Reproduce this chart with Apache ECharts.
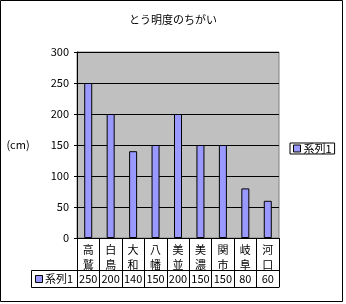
<!DOCTYPE html>
<html><head><meta charset="utf-8">
<script src="https://cdn.jsdelivr.net/npm/echarts@6/dist/echarts.min.js"></script>
<style>html,body{margin:0;padding:0;background:#fff}#c{width:346px;height:304px}</style>
</head><body><div id="c"></div>
<script>
var title = 'とう明度のちがい';
var categories = ['高鷲','白鳥','大和','八幡','美並','美濃','関市','岐阜','河口'];
var seriesName = '系列1';
var values = [250,200,140,150,200,150,150,80,60];
var yTicks = [0,50,100,150,200,250,300];
var yUnit = '(cm)';

var FONT = '"Noto Sans CJK JP", sans-serif';
var chart = echarts.init(document.getElementById('c'), null, {renderer:'canvas'});
var option = {
  animation:false,
  backgroundColor:'#fff',
  textStyle:{fontFamily:FONT},
  title:{text:title,left:'center',top:9,textStyle:{fontSize:11,fontWeight:'normal',color:'#000',fontFamily:FONT}},
  legend:{data:[{name:seriesName,icon:'rect'}],left:290,top:143,orient:'vertical',itemWidth:7,itemHeight:7,itemGap:2,
    padding:[0,3,0,3],borderColor:'#000',borderWidth:1,
    textStyle:{fontSize:11,color:'#000',fontFamily:FONT,padding:[0,0,0,-2]},
    itemStyle:{borderColor:'#000',borderWidth:1}},
  grid:{left:77,right:67,top:52,bottom:66,show:true,backgroundColor:'#C0C0C0',borderColor:'#808080',borderWidth:1},
  xAxis:[
    {type:'category',data:categories,position:'bottom',
     axisLine:{show:true,lineStyle:{color:'#000',width:1}},
     axisTick:{show:true,length:49,alignWithLabel:false,lineStyle:{color:'#000'}},
     axisLabel:{interval:0,margin:4,fontSize:11,color:'#000',lineHeight:15,fontFamily:FONT,
       formatter:function(v){return v.split('').join('\n');}}},
    {type:'category',data:values.map(String),position:'bottom',offset:32,
     axisLine:{show:true,lineStyle:{color:'#000',width:1}},
     axisTick:{show:false},
     axisLabel:{interval:0,margin:3,fontSize:11,color:'#000',fontFamily:FONT}},
    {type:'category',data:categories,position:'bottom',offset:49,
     axisLine:{show:true,lineStyle:{color:'#000',width:1}},
     axisTick:{show:false},axisLabel:{show:false}}
  ],
  yAxis:{type:'value',min:yTicks[0],max:yTicks[yTicks.length-1],interval:50,
    axisLine:{show:true,lineStyle:{color:'#000'}},
    axisTick:{show:true,length:3,lineStyle:{color:'#000'}},
    axisLabel:{margin:8,fontSize:11,color:'#000',fontFamily:FONT},
    splitLine:{show:true,lineStyle:{color:'#000',width:1}}},
  series:[{type:'bar',name:seriesName,data:values,xAxisIndex:0,barWidth:8,
    itemStyle:{color:'#9999FF',borderColor:'#000',borderWidth:1}}],
  graphic:[]
};
chart.setOption(option);

var y0 = chart.convertToPixel({yAxisIndex:0}, 0);
var catW = chart.convertToPixel({xAxisIndex:0}, categories[1]) - chart.convertToPixel({xAxisIndex:0}, categories[0]);
var left = chart.convertToPixel({xAxisIndex:0}, categories[0]) - catW/2;
var r1 = y0 + 32;
chart.setOption({graphic:[
  {type:'rect',shape:{x:0.5,y:0.5,width:342,height:301},style:{fill:'none',stroke:'#000',lineWidth:1},silent:true},
  {type:'rect',shape:{x:31.5,y:Math.round(r1)+0.5,width:Math.round(left)-31,height:17},style:{fill:'#fff',stroke:'#000',lineWidth:1},silent:true},
  {type:'rect',shape:{x:35.5,y:Math.round(r1)+5.5,width:7,height:7},style:{fill:'#9999FF',stroke:'#000',lineWidth:1},silent:true},
  {type:'text',x:45,y:Math.round(r1)+9,style:{text:seriesName,fontSize:11,fill:'#000',fontFamily:FONT,verticalAlign:'middle'},silent:true},
  {type:'text',x:18,y:(y0 + chart.convertToPixel({yAxisIndex:0}, 300))/2,style:{text:yUnit,fontSize:11,fill:'#000',fontFamily:FONT,align:'center',verticalAlign:'middle'},silent:true}
]});
</script></body></html>
